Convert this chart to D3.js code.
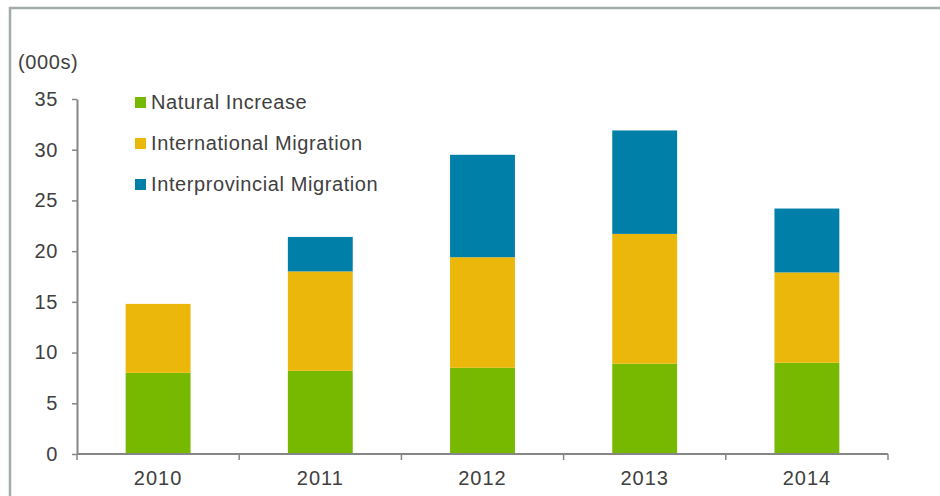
<!DOCTYPE html>
<html><head><meta charset="utf-8">
<script src="https://cdn.jsdelivr.net/npm/d3@7"></script>
<style>body{margin:0;background:#fff;}svg{display:block;}text{font-family:"Liberation Sans",Arial,sans-serif;}</style>
</head><body>
<script>
const years = ["2010","2011","2012","2013","2014"];
const naturalIncrease = [8.0, 8.2, 8.5, 8.9, 9.0];
const internationalMigration = [6.8, 9.8, 10.9, 12.8, 8.9];
const interprovincialMigration = [0, 3.4, 10.1, 10.2, 6.3];
const seriesNames = ["Natural Increase","International Migration","Interprovincial Migration"];
const colors = ["#77b800","#ecb70b","#0080a8"];
const yTicks = [0,5,10,15,20,25,30,35];

const W=940,H=496;
const FS="20px", LS="0.6px";
const svg=d3.select("body").append("svg").attr("width",W).attr("height",H);
// frame
svg.append("path").attr("d",`M10,${H} L10,8 L${W},8`).attr("fill","none").attr("stroke","#a3abab").attr("stroke-width",2.5);

const x=d3.scaleBand().domain(years).range([77,888]).paddingInner(0.6).paddingOuter(0.3);
const y=d3.scaleLinear().domain([0,35]).range([454,99]);

const rows=years.map((yr,i)=>({year:yr,n:naturalIncrease[i],i:internationalMigration[i],p:interprovincialMigration[i]}));
const stack=d3.stack().keys(["n","i","p"])(rows);
svg.selectAll("g.s").data(stack).join("g").attr("fill",(d,k)=>colors[k])
 .selectAll("rect").data(d=>d).join("rect")
 .attr("x",d=>x(d.data.year)).attr("width",x.bandwidth())
 .attr("y",d=>y(d[1])).attr("height",d=>y(d[0])-y(d[1]));

const axisColor="#868686", textColor="#404040";
// y axis
const ya=svg.append("g").attr("transform","translate(77,0)").call(d3.axisLeft(y).tickValues(yTicks).tickSize(5).tickPadding(14).tickSizeOuter(0));
ya.select(".domain").attr("stroke",axisColor).attr("stroke-width",2);
ya.selectAll(".tick line").attr("stroke",axisColor).attr("stroke-width",1.5);
ya.selectAll("text").attr("fill",textColor).style("font-size",FS).style("letter-spacing",LS).style("font-family","Liberation Sans, Arial, sans-serif");
// x axis
const xa=svg.append("g").attr("transform","translate(0,454)").call(d3.axisBottom(x).tickSize(0).tickPadding(17));
xa.select(".domain").attr("stroke",axisColor).attr("stroke-width",2).attr("d","M77,0H888");
xa.selectAll("text").attr("fill",textColor).style("font-size",FS).style("letter-spacing","1px").style("font-family","Liberation Sans, Arial, sans-serif");
// x boundary ticks
const step=(888-77)/years.length;
const bounds=d3.range(years.length+1).map(k=>77+k*step);
svg.append("g").selectAll("line").data(bounds).join("line")
 .attr("x1",d=>d).attr("x2",d=>d).attr("y1",454).attr("y2",460).attr("stroke",axisColor).attr("stroke-width",1.5);

svg.append("text").attr("x",18).attr("y",69).attr("fill",textColor).style("font-size",FS).style("letter-spacing",LS).text("(000s)");

// legend
const lg=svg.append("g");
seriesNames.forEach((nm,k)=>{
  const cy=102+k*41;
  lg.append("rect").attr("x",135).attr("y",cy-5).attr("width",11).attr("height",11).attr("fill",colors[k]);
  lg.append("text").attr("x",151).attr("y",cy+7).attr("fill",textColor).style("font-size",FS).style("letter-spacing",LS).text(nm);
});
</script>
</body></html>
